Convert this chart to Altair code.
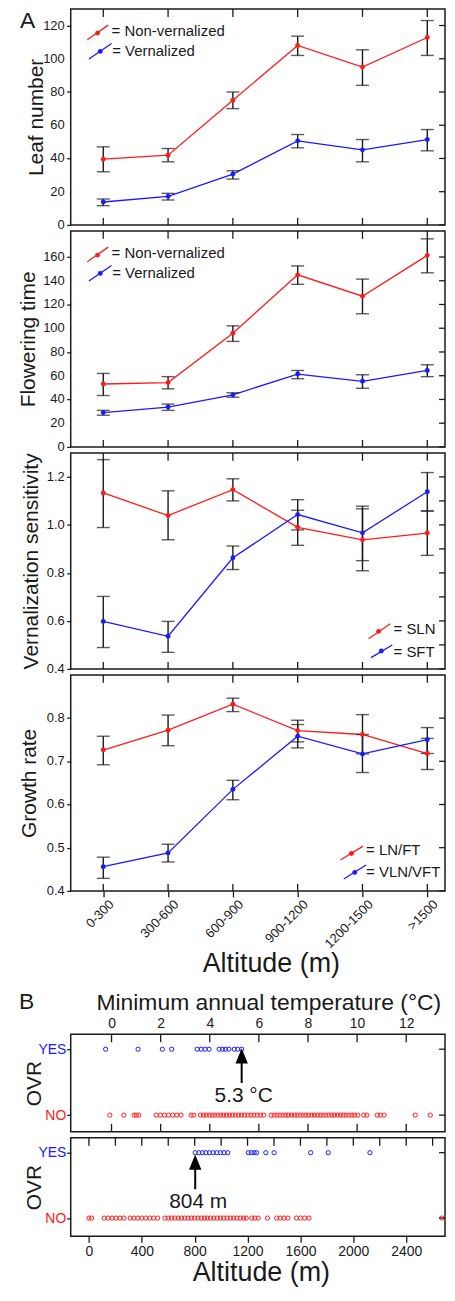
import altair as alt
import pandas as pd

# ---------------- data ----------------
cats = ["0-300", "300-600", "600-900", "900-1200", "1200-1500", ">1500"]

leaf_nv = [39.6, 42.0, 75.0, 108.0, 95.0, 112.8]
leaf_nv_hi = [47.0, 46.0, 80.0, 113.6, 105.4, 123.0]
leaf_nv_lo = [32.0, 38.0, 70.0, 102.0, 84.0, 102.0]
leaf_v = [13.8, 17.2, 30.6, 50.6, 45.2, 51.4]
leaf_v_hi = [15.6, 19.0, 32.6, 54.4, 51.4, 57.4]
leaf_v_lo = [11.6, 15.0, 27.6, 46.4, 38.0, 44.6]

flow_nv = [53.0, 54.2, 95.8, 145.0, 127.0, 161.4]
flow_nv_hi = [61.9, 59.2, 102.0, 152.5, 141.4, 175.3]
flow_nv_lo = [43.3, 48.9, 88.9, 137.0, 112.2, 146.7]
flow_v = [28.9, 33.6, 43.9, 61.4, 55.3, 64.4]
flow_v_hi = [30.8, 36.1, 45.6, 64.4, 60.8, 69.2]
flow_v_lo = [26.7, 30.8, 41.9, 57.5, 49.4, 59.2]

sln = [1.133, 1.039, 1.147, 0.990, 0.938, 0.966]
sln_hi = [1.272, 1.142, 1.192, 1.061, 1.067, 1.058]
sln_lo = [0.989, 0.938, 1.100, 0.915, 0.809, 0.873]
sft = [0.598, 0.536, 0.863, 1.043, 0.967, 1.138]
sft_hi = [0.702, 0.598, 0.912, 1.105, 1.078, 1.218]
sft_lo = [0.489, 0.469, 0.814, 0.979, 0.851, 1.058]

lnft = [0.726, 0.772, 0.832, 0.771, 0.762, 0.718]
lnft_hi = [0.758, 0.807, 0.846, 0.795, 0.808, 0.753]
lnft_lo = [0.692, 0.736, 0.815, 0.745, 0.717, 0.681]
vln = [0.456, 0.488, 0.635, 0.758, 0.717, 0.750]
vln_hi = [0.478, 0.508, 0.656, 0.785, 0.762, 0.778]
vln_lo = [0.429, 0.467, 0.611, 0.731, 0.674, 0.718]

leaf_ticks = [0, 20, 40, 60, 80, 100, 120]
leaf_labels = ["0", "20", "40", "60", "80", "100", "120"]
flow_ticks = [0, 20, 40, 60, 80, 100, 120, 140, 160]
flow_labels = ["0", "20", "40", "60", "80", "100", "120", "140", "160"]
vs_ticks = [0.4, 0.5, 0.6, 0.7, 0.8, 0.9, 1.0, 1.1, 1.2]
vs_label_vals = [0.4, 0.6, 0.8, 1.0, 1.2]
vs_labels = ["0.4", "0.6", "0.8", "1.0", "1.2"]
gr_ticks = [0.4, 0.5, 0.6, 0.7, 0.8]
gr_labels = ["0.4", "0.5", "0.6", "0.7", "0.8"]

temp_yes = [-0.24, 1.08, 2.07, 2.45, 3.49, 3.65, 3.81, 3.97, 4.38, 4.52, 4.64,
            4.78, 5.0, 5.14, 5.3]
temp_no = [-0.07, 0.5, 0.92, 1.01, 1.11, 1.82, 1.99, 2.15, 2.32, 2.49, 2.66, 2.83,
           3.24, 3.35, 3.62, 3.74, 3.86, 3.98, 4.1, 4.21, 4.33, 4.45, 4.56, 4.68,
           4.8, 4.92, 5.04, 5.17, 5.29, 5.42, 5.55, 5.68, 5.8, 5.93, 6.06, 6.2,
           6.5, 6.62, 6.74, 6.86, 6.98, 7.1, 7.21, 7.33, 7.45, 7.56, 7.68, 7.8,
           7.91, 8.03, 8.15, 8.26, 8.38, 8.5, 8.61, 8.73, 8.85, 8.97, 9.08, 9.2,
           9.32, 9.44, 9.55, 9.67, 9.79, 9.9, 10.03, 10.27, 10.4, 10.82, 10.95,
           11.1, 12.37, 12.98]
alt_yes = [804, 832, 858, 885, 912, 940, 967, 995, 1022, 1050, 1205, 1228, 1250,
           1268, 1338, 1401, 1677, 1810, 2126]
alt_no = [0, 20, 115, 145, 175, 205, 235, 265, 312, 340, 370, 400, 430, 460, 490,
          520, 575, 600, 625, 650, 675, 700, 725, 750, 775, 800, 825, 850, 875,
          895, 920, 945, 970, 995, 1020, 1045, 1070, 1095, 1120, 1145, 1170, 1190,
          1232, 1256, 1280, 1351, 1420, 1447, 1475, 1505, 1570, 1600, 1632, 1665,
          2670]
temp_threshold = 5.3
alt_threshold = 804

temp_ticks = [0, 2, 4, 6, 8, 10, 12]
alt_ticks = [0, 200, 400, 600, 800, 1000, 1200, 1400, 1600, 1800, 2000, 2200,
             2400, 2600]

# ---------------- style ----------------
RED = "#ff1a1a"
BLUE = "#1a1aff"
INK = "#1a1a1a"
FONT = "Liberation Sans"
W = 376
H = 217

xscale = alt.Scale(type="point", domain=cats, range=[32.7, 358.2], padding=0)
cat_df = pd.DataFrame({"cat": cats})


def legend_item(x1, y1, x2, y2, px, py, tx, ty, label, color):
    d = pd.DataFrame({"label": [label]})
    c = alt.Chart(d)
    ln = c.mark_rule(color=color, strokeWidth=1.3).encode(
        x=alt.value(x1), y=alt.value(y1), x2=alt.value(x2), y2=alt.value(y2))
    pt = c.mark_circle(color=color, size=24, opacity=1).encode(
        x=alt.value(px), y=alt.value(py))
    tt = c.mark_text(align="left", baseline="middle", fontSize=15, color=INK).encode(
        x=alt.value(tx), y=alt.value(ty), text="label:N")
    return [ln, pt, tt]


def a_panel(names, d1, d2, domain, ticks, label_vals, labels, title, title_x,
            legends, xaxis=None, letter=None):
    v1, hi1, lo1 = d1
    v2, hi2, lo2 = d2
    df = pd.DataFrame({
        "cat": cats * 2,
        "idx": list(range(6)) * 2,
        "series": [names[0]] * 6 + [names[1]] * 6,
        "value": v1 + v2,
        "hi": hi1 + hi2,
        "lo": lo1 + lo2,
    })
    ysc = alt.Scale(domain=domain, nice=False, zero=False)
    yax = alt.Axis(values=ticks, labels=False, title=title, titleX=title_x,
                   titleY=H / 2, titleBaseline="alphabetic", titleFontSize=21,
                   titleColor=INK, tickSize=4, tickColor=INK, tickWidth=1.3,
                   grid=False, domain=False)
    color = alt.Color("series:N", scale=alt.Scale(domain=names, range=[RED, BLUE]),
                      legend=None)
    if xaxis is not None:
        xenc_main = alt.X("cat:N", scale=xscale, axis=xaxis)
        xenc = alt.X("cat:N", scale=xscale)
    else:
        xenc_main = alt.X("cat:N", scale=xscale, axis=None)
        xenc = alt.X("cat:N", scale=xscale, axis=None)
    base = alt.Chart(df)
    line = base.mark_line(strokeWidth=1.3).encode(
        x=xenc_main, y=alt.Y("value:Q", scale=ysc, axis=yax), color=color,
        order=alt.Order("idx:Q"))
    err = base.mark_rule(color=INK, strokeWidth=1.4).encode(
        x=xenc, y=alt.Y("lo:Q", scale=ysc), y2="hi:Q")
    cap_hi = base.mark_tick(color=INK, thickness=1.4, size=13).encode(
        x=xenc, y=alt.Y("hi:Q", scale=ysc))
    cap_lo = base.mark_tick(color=INK, thickness=1.4, size=13).encode(
        x=xenc, y=alt.Y("lo:Q", scale=ysc))
    pts = base.mark_circle(size=24, opacity=1).encode(
        x=xenc, y=alt.Y("value:Q", scale=ysc), color=color)
    tc = alt.Chart(cat_df)
    top_t = tc.mark_rule(color=INK, strokeWidth=1.3).encode(
        x=xenc, y=alt.value(0), y2=alt.value(8))
    bot_t = tc.mark_rule(color=INK, strokeWidth=1.3).encode(
        x=xenc, y=alt.value(H - 7), y2=alt.value(H))
    right_t = alt.Chart(pd.DataFrame({"value": ticks})).mark_rule(
        color=INK, strokeWidth=1.3).encode(
        x=alt.value(W - 6), x2=alt.value(W), y=alt.Y("value:Q", scale=ysc))
    ylab = alt.Chart(pd.DataFrame({"value": label_vals, "lab": labels})).mark_text(
        align="right", baseline="middle", fontSize=13, color=INK).encode(
        x=alt.value(-6), y=alt.Y("value:Q", scale=ysc), text="lab:N")
    layers = [line, err, cap_hi, cap_lo, pts, top_t, bot_t, right_t, ylab]
    for lg in legends:
        layers += legend_item(*lg)
    if letter:
        layers.append(alt.Chart(pd.DataFrame({"t": [letter[0]]})).mark_text(
            align="left", baseline="alphabetic", fontSize=23, color=INK).encode(
            x=alt.value(letter[1]), y=alt.value(letter[2]), text="t:N"))
    return alt.layer(*layers).properties(width=W, height=H)


legA = [(16.7, 31, 37.7, 16.3, 27, 24.3, 41, 22, "= Non-vernalized", RED),
        (18.3, 50.3, 41, 34.7, 29.7, 42.7, 41.7, 42.7, "= Vernalized", BLUE)]
p1 = a_panel(["Non-vernalized", "Vernalized"],
             (leaf_nv, leaf_nv_hi, leaf_nv_lo), (leaf_v, leaf_v_hi, leaf_v_lo),
             [0, 130], leaf_ticks, leaf_ticks, leaf_labels, "Leaf number", -28.5,
             legA, letter=("A", -51, 19))
p2 = a_panel(["Non-vernalized", "Vernalized"],
             (flow_nv, flow_nv_hi, flow_nv_lo), (flow_v, flow_v_hi, flow_v_lo),
             [0, 182], flow_ticks, flow_ticks, flow_labels, "Flowering time",
             -36.3, legA)
leg3 = [(299.3, 186.7, 321, 171.7, 309.3, 179.3, 324.3, 176.7, "= SLN", RED),
        (301.7, 205.7, 323, 193, 312, 199, 324.3, 200, "= SFT", BLUE)]
p3 = a_panel(["SLN", "SFT"], (sln, sln_hi, sln_lo), (sft, sft_hi, sft_lo),
             [0.4, 1.3], vs_ticks, vs_label_vals, vs_labels,
             "Vernalization sensitivity", -33.3, leg3)
leg4 = [(271, 186, 293.7, 172, 282, 179.4, 296.7, 176, "= LN/FT", RED),
        (274.3, 205, 296.7, 191, 285.3, 198.4, 296.7, 198.4, "= VLN/VFT", BLUE)]
xaxis4 = alt.Axis(labelAngle=-45, labelAlign="right", labelBaseline="middle",
                  labelFontSize=13, labelColor=INK, labelPadding=5, labelOffset=8,
                  tickSize=6, tickColor=INK, tickWidth=1.3, domain=False, grid=False,
                  labelOverlap=False,
                  title="Altitude (m)", titleFontSize=27, titleColor=INK,
                  titleBaseline="alphabetic", titleY=81, titleX=201)
p4 = a_panel(["LN/FT", "VLN/VFT"], (lnft, lnft_hi, lnft_lo), (vln, vln_hi, vln_lo),
             [0.4, 0.9], gr_ticks, gr_ticks, gr_labels, "Growth rate", -35.3, leg4,
             xaxis=xaxis4)

spacer = alt.Chart(pd.DataFrame({"a": [0]})).mark_point(opacity=0).encode(
    x=alt.value(0), y=alt.value(0)).properties(
    width=W, height=132, view=alt.ViewBackground(stroke="transparent"))

# ---------------- panel B ----------------
lab_color = {"condition": {"test": "datum.value == 1", "value": BLUE}, "value": RED}


def b_panel(field, xs_yes, xs_no, xdomain, xaxis, ydomain, h, thr, thr_label,
            tick_vals, arrow_y, text_y, text_dx, letter=None, bottom_inner=False):
    df = pd.DataFrame({field: xs_yes + xs_no,
                       "ovr": [1] * len(xs_yes) + [0] * len(xs_no),
                       "grp": ["YES"] * len(xs_yes) + ["NO"] * len(xs_no)})
    xsc = alt.Scale(domain=xdomain, nice=False, zero=False)
    ysc = alt.Scale(domain=ydomain, nice=False, zero=False)
    yax = alt.Axis(values=[0, 1], labelExpr="datum.value == 1 ? 'YES' : 'NO'",
                   labelColor=lab_color, labelFontSize=14, labelPadding=1,
                   tickSize=4, tickColor=INK, tickWidth=1.3, grid=False, domain=False,
                   labelOverlap=False,
                   title="OVR", titleX=-30, titleY=h / 2, titleBaseline="alphabetic",
                   titleFontSize=21, titleColor=INK)
    base = alt.Chart(df)
    pts = base.mark_point(shape="circle", filled=False, size=18, strokeWidth=1,
                          opacity=1).encode(
        x=alt.X(f"{field}:Q", scale=xsc, axis=xaxis),
        y=alt.Y("ovr:Q", scale=ysc, axis=yax),
        color=alt.Color("grp:N", scale=alt.Scale(domain=["YES", "NO"],
                                                  range=[BLUE, RED]), legend=None))
    tdf = pd.DataFrame({field: tick_vals})
    xenc = alt.X(f"{field}:Q", scale=xsc)
    top_t = alt.Chart(tdf).mark_rule(color=INK, strokeWidth=1.3).encode(
        x=xenc, y=alt.value(0), y2=alt.value(8))
    layers = [pts, top_t]
    if bottom_inner:
        layers.append(alt.Chart(tdf).mark_rule(color=INK, strokeWidth=1.3).encode(
            x=xenc, y=alt.value(h - 8), y2=alt.value(h)))
    right_t = alt.Chart(pd.DataFrame({"ovr": [0, 1]})).mark_rule(
        color=INK, strokeWidth=1.3).encode(
        x=alt.value(W - 6), x2=alt.value(W), y=alt.Y("ovr:Q", scale=ysc))
    layers.append(right_t)
    adf = pd.DataFrame({field: [thr], "label": [thr_label]})
    ac = alt.Chart(adf)
    layers.append(ac.mark_rule(color="black", strokeWidth=2).encode(
        x=xenc, y=alt.value(arrow_y + 7), y2=alt.value(arrow_y + 35)))
    layers.append(ac.mark_point(shape="M0,-1L-0.8,1L0.8,1Z", filled=True, size=240,
                                color="black", opacity=1).encode(
        x=xenc, y=alt.value(arrow_y + 7.75)))
    layers.append(ac.mark_text(fontSize=21, color=INK, baseline="middle",
                               dx=text_dx).encode(
        x=xenc, y=alt.value(text_y), text="label:N"))
    if letter:
        layers.append(alt.Chart(pd.DataFrame({"t": [letter[0]]})).mark_text(
            align="left", baseline="alphabetic", fontSize=23, color=INK).encode(
            x=alt.value(letter[1]), y=alt.value(letter[2]), text="t:N"))
    return alt.layer(*layers).properties(width=W, height=h)


xaxis_b1 = alt.Axis(orient="top", values=temp_ticks, labelFontSize=14, labelColor=INK,
                    labelPadding=4, tickSize=0, ticks=False, domain=False, grid=False,
                    labelOverlap=False,
                    title="Minimum annual temperature (°C)", titleFontSize=23,
                    titleColor=INK, titleBaseline="alphabetic", titleY=-24.7,
                    titleX=198.5)
b1 = b_panel("temp", temp_yes, temp_no, [-1.662, 13.58], xaxis_b1,
             [-0.253, 1.227], 98, temp_threshold, f"{temp_threshold} °C",
             temp_ticks, 14, 62, 2, letter=("B", -52, -25), bottom_inner=True)

xaxis_b2 = alt.Axis(orient="bottom", values=alt_ticks,
                    labelExpr="datum.value % 400 == 0 ? format(datum.value, 'd') : ''",
                    labelFontSize=14, labelColor=INK, labelPadding=2, tickSize=6,
                    tickColor=INK, tickWidth=1.3, domain=False, grid=False,
                    labelOverlap=False,
                    title="Altitude (m)", titleFontSize=27, titleColor=INK,
                    titleBaseline="alphabetic", titleY=44, titleX=191)
b2 = b_panel("alt", alt_yes, alt_no, [-137.8, 2693.7], xaxis_b2, [-0.279, 1.228], 99,
             alt_threshold, f"{alt_threshold} m", alt_ticks, 16.7, 65, 3)

chart = alt.vconcat(p1, p2, p3, p4, spacer, b1, b2, spacing=6, bounds="flush").resolve_scale(
    color="independent"
).properties(
    padding={"left": 8, "top": -4, "right": 0, "bottom": 0}
).configure(font=FONT).configure_view(stroke=INK, strokeWidth=1.5).configure_axis(
    titleFontWeight="normal", labelOverlap=False)

chart.save("out.html", embed_options={"renderer": "svg", "actions": False})
